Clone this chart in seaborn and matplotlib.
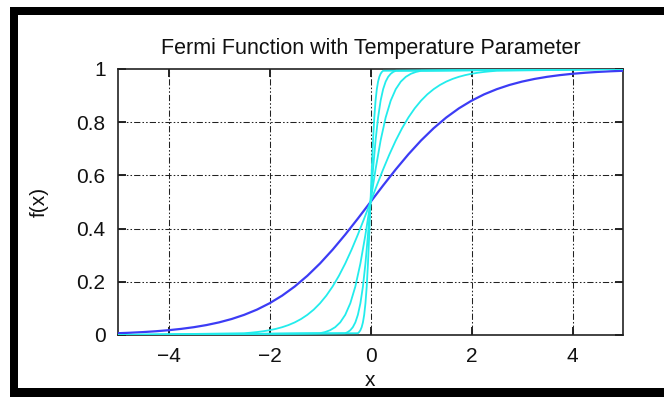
import matplotlib
matplotlib.use("Agg")
import matplotlib.pyplot as plt
import pandas as pd
import seaborn as sns
from matplotlib.patches import Rectangle
from matplotlib.ticker import FixedLocator, FixedFormatter

# ---------------- data ----------------
series_names = ["T=1", "T=0.5", "T=0.2", "T=0.1", "T=0.05"]

x_t1 = [-5.0, -4.75, -4.5, -4.25, -4.0, -3.75, -3.5, -3.25, -3.0, -2.75, -2.5,
        -2.25, -2.0, -1.75, -1.5, -1.25, -1.0, -0.75, -0.5, -0.25, 0.0,
        0.25, 0.5, 0.75, 1.0, 1.25, 1.5, 1.75, 2.0, 2.25, 2.5,
        2.75, 3.0, 3.25, 3.5, 3.75, 4.0, 4.25, 4.5, 4.75, 5.0]
f_t1 = [0.0067, 0.0086, 0.0110, 0.0141, 0.0180, 0.0230, 0.0293, 0.0373, 0.0474, 0.0601, 0.0759,
        0.0953, 0.1192, 0.1480, 0.1824, 0.2227, 0.2689, 0.3208, 0.3775, 0.4378, 0.5,
        0.5622, 0.6225, 0.6792, 0.7311, 0.7773, 0.8176, 0.8520, 0.8808, 0.9047, 0.9241,
        0.9399, 0.9526, 0.9627, 0.9707, 0.9770, 0.9820, 0.9859, 0.9890, 0.9914, 0.9933]

x_t05 = [-5.0, -2.5, -2.375, -2.25, -2.125, -2.0, -1.875, -1.75, -1.625, -1.5, -1.375,
         -1.25, -1.125, -1.0, -0.875, -0.75, -0.625, -0.5, -0.375, -0.25, -0.125, 0.0,
         0.125, 0.25, 0.375, 0.5, 0.625, 0.75, 0.875, 1.0, 1.125, 1.25,
         1.375, 1.5, 1.625, 1.75, 1.875, 2.0, 2.125, 2.25, 2.375, 2.5, 5.0]
f_t05 = [0.0, 0.0067, 0.0086, 0.0110, 0.0141, 0.0180, 0.0230, 0.0293, 0.0373, 0.0474, 0.0601,
         0.0759, 0.0953, 0.1192, 0.1480, 0.1824, 0.2227, 0.2689, 0.3208, 0.3775, 0.4378, 0.5,
         0.5622, 0.6225, 0.6792, 0.7311, 0.7773, 0.8176, 0.8520, 0.8808, 0.9047, 0.9241,
         0.9399, 0.9526, 0.9627, 0.9707, 0.9770, 0.9820, 0.9859, 0.9890, 0.9914, 0.9933, 1.0]

x_t02 = [-5.0, -1.0, -0.9, -0.8, -0.7, -0.6, -0.5, -0.4, -0.3, -0.2, -0.1, 0.0,
         0.1, 0.2, 0.3, 0.4, 0.5, 0.6, 0.7, 0.8, 0.9, 1.0, 5.0]
f_t02 = [0.0, 0.0067, 0.0110, 0.0180, 0.0293, 0.0474, 0.0759, 0.1192, 0.1824, 0.2689, 0.3775, 0.5,
         0.6225, 0.7311, 0.8176, 0.8808, 0.9241, 0.9526, 0.9707, 0.9820, 0.9890, 0.9933, 1.0]

x_t01 = [-5.0, -0.5, -0.45, -0.4, -0.35, -0.3, -0.25, -0.2, -0.15, -0.1, -0.05, 0.0,
         0.05, 0.1, 0.15, 0.2, 0.25, 0.3, 0.35, 0.4, 0.45, 0.5, 5.0]
f_t01 = [0.0, 0.0067, 0.0110, 0.0180, 0.0293, 0.0474, 0.0759, 0.1192, 0.1824, 0.2689, 0.3775, 0.5,
         0.6225, 0.7311, 0.8176, 0.8808, 0.9241, 0.9526, 0.9707, 0.9820, 0.9890, 0.9933, 1.0]

x_t005 = [-5.0, -0.25, -0.225, -0.2, -0.175, -0.15, -0.125, -0.1, -0.075, -0.05, -0.025, 0.0,
          0.025, 0.05, 0.075, 0.1, 0.125, 0.15, 0.175, 0.2, 0.225, 0.25, 5.0]
f_t005 = [0.0, 0.0067, 0.0110, 0.0180, 0.0293, 0.0474, 0.0759, 0.1192, 0.1824, 0.2689, 0.3775, 0.5,
          0.6225, 0.7311, 0.8176, 0.8808, 0.9241, 0.9526, 0.9707, 0.9820, 0.9890, 0.9933, 1.0]

x_ticks = [-4, -2, 0, 2, 4]
x_tick_labels = ["\u22124", "\u22122", "0", "2", "4"]
y_ticks = [0, 0.2, 0.4, 0.6, 0.8, 1.0]
y_tick_labels = ["0", "0.2", "0.4", "0.6", "0.8", "1"]

title_text = "Fermi Function with Temperature Parameter"
x_label = "x"
y_label = "f(x)"

# ---------------- build long table ----------------
xs_all = [x_t1, x_t05, x_t02, x_t01, x_t005]
fs_all = [f_t1, f_t05, f_t02, f_t01, f_t005]
frames = []
for name, xs, fs in zip(series_names, xs_all, fs_all):
    frames.append(pd.DataFrame({"x": xs, "f": fs, "series": name}))
df = pd.concat(frames, ignore_index=True)

# ---------------- style ----------------
sns.set_theme(style="white")
plt.rcParams["font.family"] = ["Liberation Sans", "DejaVu Sans"]
plt.rcParams["axes.unicode_minus"] = True

BLUE = "#3c3cf5"
CYAN = "#22ecec"
palette = {"T=1": BLUE, "T=0.5": CYAN, "T=0.2": CYAN, "T=0.1": CYAN, "T=0.05": CYAN}

fig = plt.figure(figsize=(6.64, 3.97), dpi=100)
fig.patch.set_facecolor("white")
ax = fig.add_axes([118 / 664, 1 - 335 / 397, (623 - 118) / 664, (335 - 69) / 397])

grid_ls = (0, (6, 2, 1.5, 2, 1.5, 2))
for gx in x_ticks:
    ax.axvline(gx, color="#222222", lw=0.75, ls=grid_ls, zorder=1)
for gy in y_ticks[1:-1]:
    ax.axhline(gy, color="#222222", lw=0.75, ls=grid_ls, zorder=1)

sns.lineplot(data=df, x="x", y="f", hue="series", hue_order=series_names,
             palette=palette, estimator=None, sort=False, legend=False,
             ax=ax, zorder=3)
lines = [l for l in ax.get_lines() if len(l.get_xdata()) > 2]
for i, l in enumerate(lines):
    l.set_linewidth(1.6 if i == 0 else 1.3)
    l.set_solid_capstyle("round")

ax.set_xlim(-5, 5)
ax.set_ylim(0, 1)
ax.xaxis.set_major_locator(FixedLocator(x_ticks))
ax.xaxis.set_major_formatter(FixedFormatter(x_tick_labels))
ax.yaxis.set_major_locator(FixedLocator(y_ticks))
ax.yaxis.set_major_formatter(FixedFormatter(y_tick_labels))

ax.tick_params(axis="both", which="major", direction="in", length=6, width=1.2,
               color="black", labelsize=15, top=True, right=True,
               bottom=True, left=True, labelcolor="#111111")
ax.tick_params(axis="x", pad=9)
ax.tick_params(axis="y", pad=9)

for s in ax.spines.values():
    s.set_color("#222222")
    s.set_linewidth(1.2)
    s.set_visible(True)

ax.set_title(title_text, fontsize=15.5, pad=11, color="#111111")
ax.set_xlabel(x_label, fontsize=15, labelpad=3, color="#111111")
ax.set_ylabel(y_label, fontsize=15, labelpad=20, color="#111111")

# black frame around the picture (left, top, bottom bars)
W, H = 664.0, 397.0
def bar(x0, y0, x1, y1):
    fig.patches.append(Rectangle((x0 / W, 1 - y1 / H), (x1 - x0) / W, (y1 - y0) / H,
                                 transform=fig.transFigure, facecolor="black",
                                 edgecolor="none", zorder=10))
bar(10, 7, 18, 397)
bar(10, 7, 664, 15)
bar(10, 388, 664, 397)

fig.savefig("out.png", dpi=100, facecolor="white")
